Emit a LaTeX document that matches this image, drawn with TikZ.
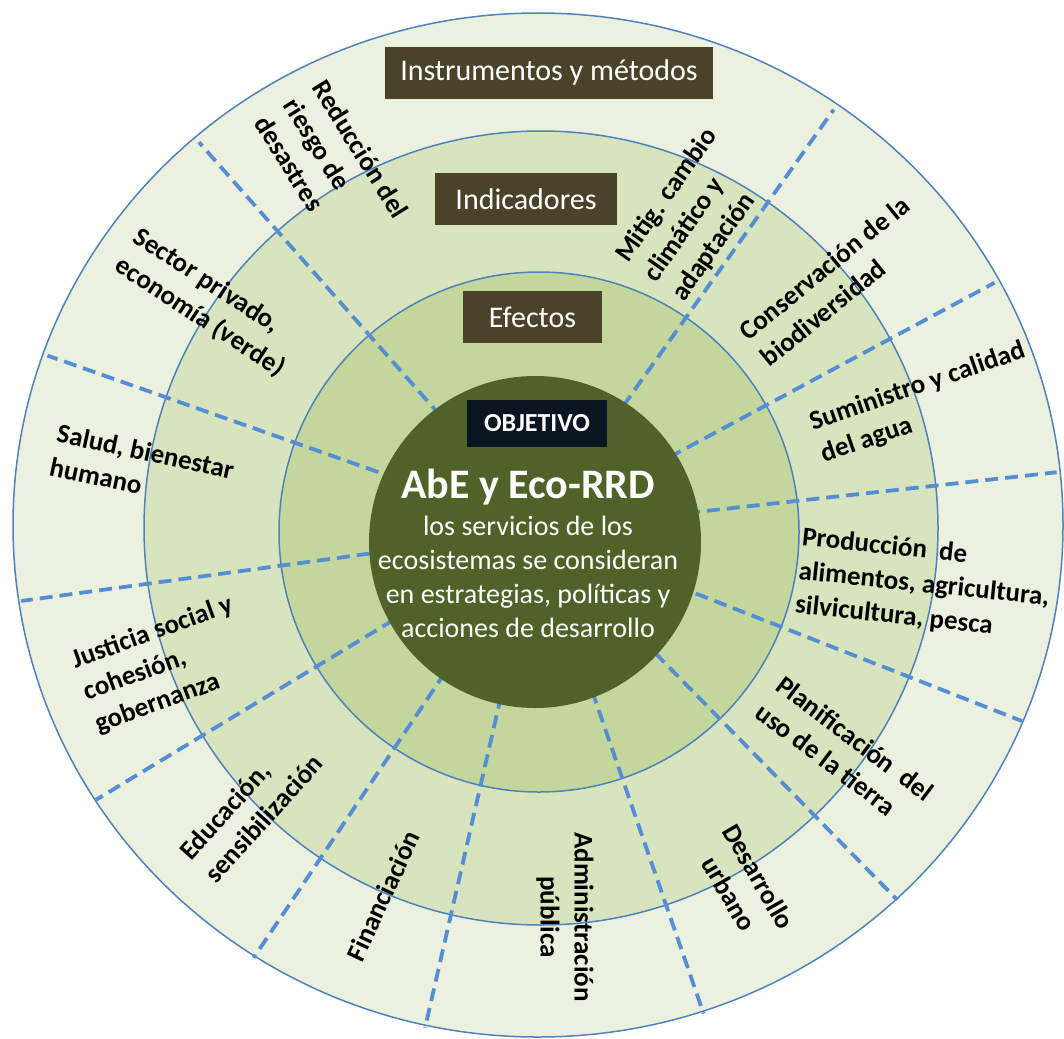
\documentclass[tikz,border=0pt]{standalone}
\usepackage{fontspec}
\setmainfont{Carlito}
\usepackage{tikz}
\usetikzlibrary{calc}
\definecolor{ringouter}{HTML}{EBF1DE}
\definecolor{ringmid}{HTML}{D7E4BD}
\definecolor{ringinner}{HTML}{C3D69B}
\definecolor{coregreen}{HTML}{4F6228}
\definecolor{lineblue}{HTML}{4F81BD}
\definecolor{dashblue}{HTML}{558ED5}
\definecolor{boxbrown}{HTML}{4A4229}
\definecolor{boxnavy}{HTML}{0B1522}

\begin{document}
\begin{tikzpicture}
[x=1pt,y=-1pt]
\tikzset{
	ring/.style = {draw=lineblue, line width=1.5pt},
	divider/.style = {draw=dashblue, line width=3.8pt, dash pattern=on 13pt off 7pt},
	header/.style = {fill=boxbrown, text=white, inner sep=0, minimum height=52pt, font=\fontsize{30}{36}\selectfont},
	sector/.style = {inner sep=0, align=left, font=\bfseries\fontsize{27}{34}\selectfont}
}

\useasboundingbox (0,0) rectangle (1064,1038);
\coordinate (c) at (538,530);

\draw [ring, fill=ringouter] (538,525) ellipse [x radius=525pt, y radius=512pt];
\draw [ring, fill=ringmid] (541,528) circle (397pt);
\draw [ring, fill=ringinner] (539,532) circle (260pt);

\draw [divider] ($(c)+(6.5:150pt)$) -- ($(c)+(6.5:522pt and 510pt)$);
\draw [divider] ($(c)+(29:150pt)$) -- ($(c)+(29:522pt and 510pt)$);
\draw [divider] ($(c)+(55.5:150pt)$) -- ($(c)+(55.5:522pt and 510pt)$);
\draw [divider] ($(c)+(130.5:150pt)$) -- ($(c)+(130.5:522pt and 510pt)$);
\draw [divider] ($(c)+(160:150pt)$) -- ($(c)+(160:522pt and 510pt)$);
\draw [divider] ($(c)+(188:150pt)$) -- ($(c)+(188:522pt and 510pt)$);
\draw [divider] ($(c)+(212:150pt)$) -- ($(c)+(212:522pt and 510pt)$);
\draw [divider] ($(c)+(237:150pt)$) -- ($(c)+(237:522pt and 510pt)$);
\draw [divider] ($(c)+(257.5:150pt)$) -- ($(c)+(257.5:522pt and 510pt)$);
\draw [divider] ($(c)+(288.5:150pt)$) -- ($(c)+(288.5:522pt and 510pt)$);
\draw [divider] ($(c)+(313.5:150pt)$) -- ($(c)+(313.5:522pt and 510pt)$);
\draw [divider] ($(c)+(338:150pt)$) -- ($(c)+(338:522pt and 510pt)$);

\fill [coregreen] (535,542) circle (166pt);

\node(instr) [header, minimum width=328pt] at (549,73) {Instrumentos y métodos};
\node(indic) [header, minimum width=182pt] at (526,199) {Indicadores};
\node(efect) [header, minimum width=139pt] at (532.5,317) {Efectos};
\node(objet) [fill=boxnavy, text=white, inner sep=0, minimum width=140pt, minimum height=47pt, font=\bfseries\fontsize{26}{30}\selectfont] at (537,423.5) {OBJETIVO};

\node(abe) [anchor=base, inner sep=0, text=white, font=\bfseries\fontsize{42}{50}\selectfont] at (528,498) {AbE y Eco-RRD};
\node(serv) [inner sep=0, text=white, align=center, font=\fontsize{28}{34}\selectfont] at (528,577) {los servicios de los\\ecosistemas se consideran\\en estrategias, políticas y\\acciones de desarrollo};

\node(red) [sector, rotate=-58] at (332,167) {Reducción del\\riesgo de\\desastres};
\node(mitig) [sector, rotate=55] at (695,215) {Mitig. cambio\\climático y\\adaptación};
\node(cons) [sector, rotate=39] at (835,281) {Conservación de la\\biodiversidad};
\node(sumin) [sector, rotate=19] at (923,403) {Suministro y calidad\\del agua};
\node(prod) [sector, rotate=-6] at (924,585) {Producción\ \ de\\alimentos, agricultura,\\silvicultura, pesca};
\node(plan) [sector, rotate=-37] at (845,752) {Planificación\ \ del\\uso de la tierra};
\node(desar) [sector, align=center, rotate=-60] at (744,885) {Desarrollo\\urbano};
\node(admin) [sector, align=center, rotate=-90] at (565,917) {Administración\\pública};
\node(finan) [sector, rotate=65] at (383,896) {Financiación};
\node(educ) [sector, rotate=48] at (251,807) {Educación,\\sensibilización};
\node(just) [sector, rotate=20] at (164,665) {Justicia social y\\cohesión,\\gobernanza};
\node(salud) [sector, rotate=-12] at (142,468) {Salud, bienestar\\humano};
\node(sector) [sector, rotate=-33] at (209,303) {Sector privado,\\economía (verde)};

\end{tikzpicture}
\end{document}
